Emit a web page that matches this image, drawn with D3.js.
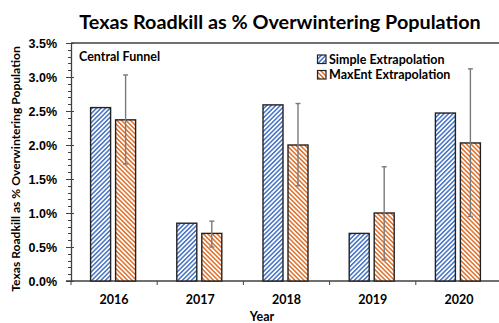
<!DOCTYPE html>
<html>
<head>
<meta charset="utf-8">
<script src="https://cdn.jsdelivr.net/npm/d3@7"></script>
<style>
  html, body { margin: 0; padding: 0; background: #fff; }
  svg { display: block; font-family: Lato, "Open Sans", sans-serif; }
</style>
</head>
<body>
<svg id="chart" width="499" height="323"></svg>
<script>
// Roadkill as a share of the overwintering population, by year
const years = ["2016", "2017", "2018", "2019", "2020"];
const simpleValues = [2.55, 0.85, 2.59, 0.70, 2.47];
const maxentValues = [2.37, 0.70, 2.00, 1.00, 2.03];
const maxentLow = [1.72, 0.50, 1.40, 0.31, 0.95];
const maxentHigh = [3.03, 0.88, 2.61, 1.68, 3.12];
const yTicks = [0, 0.5, 1.0, 1.5, 2.0, 2.5, 3.0, 3.5];
const seriesNames = ["Simple Extrapolation", "MaxEnt Extrapolation"];

const svg = d3.select("#chart");
const plotLeft = 71, plotRight = 502, plotTop = 43, plotBottom = 281;
const axisColor = "#404040";
const labelSize = 12.5;

const x = d3.scaleBand().domain(years).range([plotLeft, plotRight]);
const y = d3.scaleLinear().domain([0, 3.5]).range([plotBottom, plotTop]);
const barW = 20, gap = 5;

// diagonal hatch fills
const defs = svg.append("defs");
function hatch(id, color, dir) {
  const p = defs.append("pattern")
    .attr("id", id).attr("patternUnits", "userSpaceOnUse")
    .attr("width", 3.2).attr("height", 3.2)
    .attr("patternTransform", `rotate(${dir})`);
  p.append("rect").attr("width", 3.2).attr("height", 3.2).attr("fill", "#fff");
  p.append("rect").attr("width", 1.5).attr("height", 3.2).attr("fill", color);
}
hatch("hatchBlue", "#4472C4", 45);
hatch("hatchOrange", "#E0702A", -45);

// title
svg.append("text")
  .attr("x", 280).attr("y", 28.5)
  .attr("text-anchor", "middle")
  .attr("font-size", 19.8).attr("font-weight", 700)
  .attr("fill", "#000")
  .text("Texas Roadkill as % Overwintering Population");

// top frame line
svg.append("line")
  .attr("x1", plotLeft).attr("x2", 499).attr("y1", plotTop).attr("y2", plotTop)
  .attr("stroke", axisColor).attr("stroke-width", 1.3);

// y axis: minor ticks every 0.1%
const minor = d3.range(0, 3.5001, 0.1);
svg.append("g").selectAll("line").data(minor).join("line")
  .attr("x1", plotLeft - 3).attr("x2", plotLeft)
  .attr("y1", d => Math.round(y(d)) + 0.5).attr("y2", d => Math.round(y(d)) + 0.5)
  .attr("stroke", axisColor).attr("stroke-width", 1);

const yAxis = d3.axisLeft(y).tickValues(yTicks)
  .tickFormat(d => d3.format(".1f")(d) + "%")
  .tickSizeInner(5).tickSizeOuter(0).tickPadding(9);
const gy = svg.append("g").attr("transform", `translate(${plotLeft},0)`).call(yAxis);
gy.select(".domain").attr("stroke", axisColor).attr("stroke-width", 1.3);
gy.selectAll(".tick line").attr("x2", 3).attr("x1", -5).attr("stroke", axisColor);
gy.selectAll(".tick text").attr("font-size", labelSize).attr("font-weight", 700).attr("fill", "#000");

// x axis
svg.append("line")
  .attr("x1", plotLeft - 5).attr("x2", 499).attr("y1", plotBottom).attr("y2", plotBottom)
  .attr("stroke", axisColor).attr("stroke-width", 1.3);
svg.append("g").selectAll("line").data(years).join("line")
  .attr("x1", d => x(d)).attr("x2", d => x(d))
  .attr("y1", plotBottom).attr("y2", plotBottom + 4)
  .attr("stroke", axisColor).attr("stroke-width", 1);
svg.append("g").selectAll("text").data(years).join("text")
  .attr("x", d => x(d) + x.bandwidth() / 2)
  .attr("y", 303.5)
  .attr("text-anchor", "middle")
  .attr("font-size", labelSize).attr("font-weight", 700)
  .text(d => d);

// axis titles
svg.append("text")
  .attr("x", 262).attr("y", 321)
  .attr("text-anchor", "middle")
  .attr("font-size", labelSize).attr("font-weight", 700)
  .text("Year");
svg.append("text")
  .attr("transform", "translate(20,169) rotate(-90)")
  .attr("text-anchor", "middle")
  .attr("font-size", 12.1).attr("font-weight", 700)
  .text("Texas Roadkill as % Overwintering Population");

// bars
const center = d => x(d) + x.bandwidth() / 2 - 1;
const gBars = svg.append("g");
gBars.selectAll(".simple").data(years).join("rect")
  .attr("x", d => center(d) - gap / 2 - barW)
  .attr("y", (d, i) => y(simpleValues[i]))
  .attr("width", barW)
  .attr("height", (d, i) => y(0) - y(simpleValues[i]))
  .attr("fill", "url(#hatchBlue)")
  .attr("stroke", "#222").attr("stroke-width", 1.4);
gBars.selectAll(".maxent").data(years).join("rect")
  .attr("x", d => center(d) + gap / 2)
  .attr("y", (d, i) => y(maxentValues[i]))
  .attr("width", barW)
  .attr("height", (d, i) => y(0) - y(maxentValues[i]))
  .attr("fill", "url(#hatchOrange)")
  .attr("stroke", "#222").attr("stroke-width", 1.4);

// error bars on the MaxEnt series
const gErr = svg.append("g").attr("stroke", "#7a7a7a").attr("stroke-width", 1.4);
years.forEach((d, i) => {
  const cx = center(d) + gap / 2 + barW / 2;
  gErr.append("line").attr("x1", cx).attr("x2", cx)
    .attr("y1", y(maxentLow[i])).attr("y2", y(maxentHigh[i]));
  gErr.append("line").attr("x1", cx - 2.5).attr("x2", cx + 2.5)
    .attr("y1", y(maxentHigh[i])).attr("y2", y(maxentHigh[i]));
  gErr.append("line").attr("x1", cx - 2.5).attr("x2", cx + 2.5)
    .attr("y1", y(maxentLow[i])).attr("y2", y(maxentLow[i]));
});

// panel label
svg.append("text")
  .attr("x", 79).attr("y", 61)
  .attr("font-size", labelSize).attr("font-weight", 700)
  .text("Central Funnel");

// legend
const legend = svg.append("g");
seriesNames.forEach((name, i) => {
  const ly = 59 + i * 15.5;
  legend.append("rect")
    .attr("x", 317.5).attr("y", ly - 4).attr("width", 8.5).attr("height", 8.5)
    .attr("fill", i === 0 ? "url(#hatchBlue)" : "url(#hatchOrange)")
    .attr("stroke", "#222").attr("stroke-width", 1.2);
  legend.append("text")
    .attr("x", 329).attr("y", ly + 4.5)
    .attr("font-size", labelSize).attr("font-weight", 700)
    .text(name);
});
</script>
</body>
</html>
